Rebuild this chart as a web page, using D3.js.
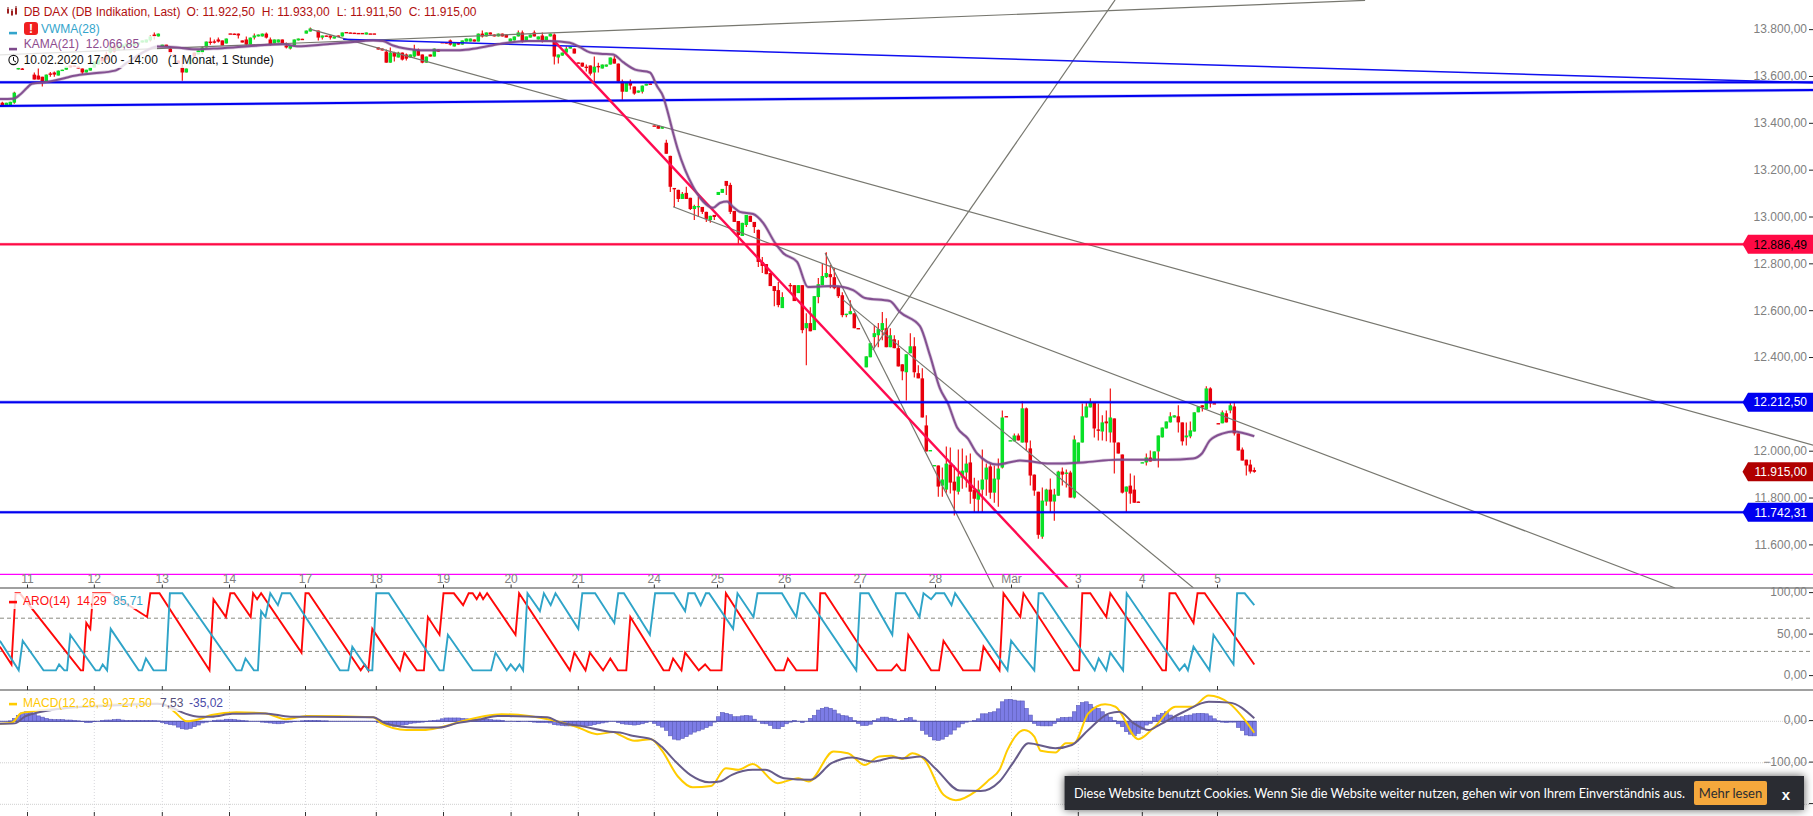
<!DOCTYPE html>
<html><head><meta charset="utf-8">
<style>html,body{margin:0;padding:0;background:#fff;overflow:hidden}svg{display:block}text{font-family:"Liberation Sans",Arial,sans-serif}</style>
<script src="https://cdn.jsdelivr.net/npm/d3@7"></script>
</head><body>
<svg id="c" width="1813" height="816"></svg>
<script>
// Candles (one entry per hourly bar, null = bar not visible)
const opens=[13491,13478,13478,13491,13635,13637,null,null,13611,13607,
13602,13581,13616,13620,13607,13628,13632,13650,13650,13645,
13637,13620,13628,13641,13654,13684,13697,13705,13735,13718,
13727,13731,13735,13735,13739,13748,13748,13757,13782,13774,
13731,13739,13722,13697,13671,13641,13620,13654,13705,13697,
13705,13727,13752,13753,13761,13757,13744,13787,13786,13786,
13757,13761,13739,13769,13774,13774,13786,13761,13744,13748,
13761,13735,13722,13735,13757,13764,13786,13795,null,13799,
13769,13778,13778,13765,13778,13774,13793,13791,13790,13789,
13789,13782,13787,13787,13727,13722,13709,13662,13705,13684,
13705,13697,13684,13688,13718,13697,13662,13697,13688,13718,
13750,13749,13757,13731,13748,13739,13752,13752,13761,13752,
13786,13774,13791,13782,13774,13786,13782,13752,13757,13774,
13791,13752,13769,13791,13761,13778,13757,13774,13782,13684,
13692,13705,13722,13722,13663,13662,13645,13650,13620,13648,
13637,13645,13654,13679,13658,13581,13538,13577,13560,13534,
13538,13564,13573,13394,13393,13380,13320,13264,13127,13119,
13080,13106,13085,13037,13046,13046,13025,12990,13012,13097,
13106,13157,13140,13029,12986,12922,12969,13008,12982,12948,
12811,12802,12764,12708,12691,12614,null,12713,12712,12678,
12712,12528,12550,12520,12661,12712,12746,12759,12746,12704,
12669,12588,12588,12592,12529,null,12361,12404,12490,12498,
12520,12528,12447,12481,12443,12374,12340,12421,12451,12336,
12314,12113,12005,11941,11942,11856,11839,11946,11873,11830,
11890,11912,11955,11839,11796,11839,11882,11938,11826,11882,
11933,12153,12048,12045,12070,12040,12186,12015,11903,11830,
11638,11788,11839,11788,11813,11916,11907,11912,11805,11955,
12040,12147,12190,12211,12096,12087,12130,12083,12143,12040,
11989,11830,11856,11839,11788,11954,11955,11976,11963,12002,
12062,12100,12126,12147,12152,12126,12062,12066,12087,12169,
12199,12182,12271,12208,12123,12122,12165,12177,12194,12079,
12010,11967,11946,11922.5];
const highs=[13495,13491,13495,13538,13641,13639,null,null,13620,13637,
13602,13611,13622,13624,13628,13632,13645,13650,13650,13645,
13637,13632,13641,13667,13675,13684,13709,13735,13739,13735,
13739,13744,13744,13744,13748,13757,13761,13778,13791,13786,
13739,13739,13727,13697,13671,13688,13637,13684,13705,13714,
13731,13752,13769,13761,13769,13757,13765,13787,13786,13786,
13757,13774,13769,13786,13782,13786,13791,13769,13761,13761,
13761,13748,13735,13761,13765,13764,13799,13812,null,13799,
13778,13778,13778,13774,13778,13791,13793,13791,13790,13789,
13789,13791,13787,13787,13727,13722,13718,13727,13709,13709,
13705,13701,13697,13739,13722,13697,13688,13697,13722,13718,
13750,13749,13761,13748,13748,13757,13765,13765,13761,13786,
13799,13791,13791,13782,13786,13786,13782,13765,13774,13799,
13799,13774,13782,13799,13774,13791,13774,13786,13786,13697,
13705,13731,13731,13722,13663,13662,13654,13650,13688,13662,
13654,13654,13684,13692,13658,13590,13577,13590,13560,13543,
13564,13572,13573,13394,13393,13388,13333,13264,13127,13119,
13110,13132,13085,13055,13089,13046,13025,13008,13012,13110,
13123,13157,13149,13029,12986,12978,13012,13008,12982,12950,
12832,12802,12764,12708,12725,12682,null,12721,12712,12712,
12712,12592,12618,12665,12742,12802,12853,12798,12785,12704,
12682,12590,12648,12592,12529,null,12408,12464,12541,12550,
12597,12571,12528,12498,12477,12374,12417,12507,12490,12370,
12357,12156,12008,11944,11942,11933,12023,12019,11942,12010,
12015,11985,11993,11890,11878,12010,11950,11950,11942,11972,
12177,12153,12050,12079,12079,12216,12190,12049,11903,11830,
11848,11843,11886,11843,11920,11933,11925,11920,12070,12040,
12207,12211,12229,12211,12207,12156,12177,12271,12143,12040,
11989,11852,11908,11899,11788,11956,11993,12006,12002,12070,
12104,12130,12169,12156,12199,12126,12126,12130,12169,12194,
12199,12280,12276,12208,12123,12177,12177,12211,12211,12079,
12019,11967,11967,11933];
const lows=[13478,13478,13478,13487,13633,13631,null,null,13590,13590,
13560,13581,13602,13602,13607,13628,13632,13641,13645,13637,
13611,13620,13628,13641,13654,13667,13675,13701,13705,13718,
13727,13731,13735,13735,13739,13748,13748,13752,13761,13774,
13731,13731,13697,13688,13658,13585,13620,13654,13688,13697,
13697,13727,13739,13744,13748,13735,13744,13785,13782,13765,
13748,13735,13739,13761,13774,13774,13765,13735,13744,13748,
13744,13722,13718,13735,13757,13762,13786,13795,null,13757,
13761,13774,13761,13765,13774,13774,13790,13789,13788,13787,
13787,13782,13785,13785,13718,13714,13662,13662,13667,13684,
13671,13671,13684,13684,13692,13660,13662,13688,13688,13709,
13748,13744,13735,13731,13739,13739,13752,13752,13752,13752,
13769,13774,13782,13774,13774,13774,13769,13752,13757,13774,
13748,13752,13769,13774,13761,13748,13757,13774,13654,13658,
13692,13705,13722,13701,13661,13645,13624,13607,13581,13620,
13637,13645,13654,13658,13577,13504,13538,13547,13525,13534,
13530,13564,13571,13392,13380,13380,13273,13110,13046,13067,
13080,13080,13033,12990,13003,13016,12982,12978,12990,13097,
13106,13097,13016,12982,12883,12922,12960,12982,12935,12789,
12764,12759,12708,12622,12618,12614,null,12682,12644,12678,
12507,12370,12515,12520,12635,12712,12742,12699,12695,12657,
12575,12575,12588,12528,12527,null,12361,12404,12443,12447,
12477,12447,12447,12443,12365,12306,12220,12421,12318,12314,
12147,12002,12005,11941,11809,11809,11826,11822,11728,11818,
11843,11848,11779,11741,11741,11741,11813,11800,11783,11766,
11929,12151,12048,12045,12049,12040,12006,11856,11813,11629,
11629,11770,11741,11706,11813,11856,11848,11805,11801,11955,
12040,12147,12190,12062,12049,12049,12045,12040,11908,11993,
11822,11741,11779,11783,11786,11954,11942,11959,11963,11933,
12062,12100,12126,12147,12083,12027,12027,12058,12087,12169,
12173,12182,12190,12206,12121,12122,12126,12165,12070,12006,
11963,11899,11908,11911.5];
const closes=[13478,13491,13495,13534,13639,13633,null,null,13590,13590,
13581,13611,13614,13611,13628,13632,13645,13641,13645,13637,
13620,13632,13641,13667,13675,13667,13675,13731,13709,13735,
13739,13744,13744,13744,13748,13757,13761,13774,13774,13786,
13739,13731,13705,13688,13658,13620,13637,13684,13688,13714,
13727,13752,13748,13750,13752,13735,13765,13785,13782,13778,
13748,13739,13769,13778,13782,13786,13769,13739,13761,13761,
13744,13727,13735,13761,13765,13762,13799,13808,null,13769,
13778,13774,13769,13774,13774,13791,13790,13789,13788,13787,
13787,13791,13785,13785,13718,13714,13662,13705,13688,13705,
13675,13679,13697,13718,13692,13662,13688,13688,13722,13709,
13748,13744,13739,13748,13739,13757,13765,13765,13752,13786,
13774,13791,13782,13774,13786,13774,13769,13765,13774,13791,
13752,13774,13782,13774,13774,13757,13774,13786,13688,13697,
13705,13722,13731,13701,13661,13645,13641,13615,13645,13646,
13654,13654,13684,13658,13581,13538,13577,13564,13530,13543,
13564,13572,13571,13392,13380,13388,13273,13132,13123,13080,
13102,13080,13037,13050,13050,13025,12995,13008,13003,13110,
13123,13136,13025,12982,12926,12978,13012,12982,12960,12811,
12794,12759,12708,12687,12627,12661,null,12711,12644,12712,
12520,12550,12515,12665,12716,12751,12764,12746,12699,12665,
12584,12590,12601,12528,12527,null,12408,12464,12507,12524,
12550,12447,12498,12443,12365,12344,12417,12451,12340,12314,
12147,12002,12008,11944,11852,11882,11950,11869,11835,11895,
11920,11950,11830,11800,11839,11882,11933,11826,11886,11929,
12147,12151,12050,12070,12049,12186,12040,11899,11835,11646,
11792,11839,11788,11818,11916,11903,11912,11805,12053,12040,
12152,12194,12211,12100,12094,12126,12122,12147,12040,11993,
11826,11852,11822,11783,11786,11956,11976,11959,12002,12070,
12104,12130,12152,12156,12126,12045,12070,12092,12169,12194,
12190,12271,12207,12206,12121,12169,12126,12199,12079,12006,
11963,11942,11916,11915];

// KAMA(21): bar index and value pairs
const kamaBars=[-0.6,2.7,4.4,6.2,7.4,10.7,15.2,16.9,21.9,28.2,31.2,36.2,38.7,43.7,47.7,52.7,57.7,63.9,70.2,73.7,81.2,86.2,92.7,95.2,97.7,101.2,104.4,114.4,118.7,124.4,131.2,136.9,141.9,144.4,146.9,149.4,152.7,155.2,158.2,161.9,163.7,165.2,166.2,167.7,168.9,170.7,172.7,175.2,177.7,179.4,181.2,182.7,184.4,187.7,190.2,193.2,195.2,198.7,201.4,207.7,212.7,215.7,221.9,224.4,229.4,231.9,234.4,236.4,238.7,241.4,243.7,248.7,254.4,261.9,270.2,278.7,291.2,297.7,299.9,301.9,305.2,307.7,313];
const kamaVals=[13507,13508,13525,13555,13572,13578,13594,13602,13615,13628,13662,13715,13731,13727,13719,13722,13727,13735,13741,13732,13741,13748,13757,13754,13735,13721,13715,13715,13724,13742,13754,13754,13747,13728,13706,13700,13697,13664,13632,13620,13561,13518,13461,13363,13290,13204,13132,13069,13042,13063,13069,13046,13025,13016,12978,12892,12849,12811,12704,12708,12691,12657,12644,12597,12537,12413,12271,12207,12104,12057,11993,11946,11963,11950,11955,11967,11967,11972,11993,12049,12079,12087,12066.85];

// Aroon up (red) and down (blue)
const aroRedBars=[-0.6,2.3,3.3,4.4,19.6,20.2,21,22,22.7,26.9,36.2,37,39.3,51.8,52.8,55.9,57,58,62.1,62.7,63.7,64.7,74.8,75.8,76.6,89.6,90.6,91.5,92.5,99.4,100.5,103.6,105.4,106.4,109.3,110.3,112.9,115.2,116.6,117.6,118.6,119.4,120.2,121.2,128.3,129.2,141.9,143,145.8,146.9,150.2,152,153.9,156,157,165.3,166.7,167.7,169.8,170.7,174.1,175.7,177,179.8,180.9,193.3,195.4,196.4,198.5,203.7,204.5,205.7,213.5,218.7,222.3,223.6,224.7,225.7,226.5,232.2,234.2,235.3,240.2,244.4,245.3,249.3,250.3,254.5,255.3,267.9,269.2,270,272,276,277,290,290.9,291.8,293.3,297.8,298.8,300.6,313];
const aroRedVals=[35.71,14.29,100,100,7.14,7.14,64.29,57.14,100,100,71.43,100,100,7.14,92.86,71.43,100,100,71.43,100,92.86,100,28.57,100,100,7.14,14.29,7.14,57.14,7.14,28.57,7.14,7.14,71.43,50,100,100,85.71,100,100,92.86,100,92.86,100,50,100,7.14,28.57,7.14,28.57,7.14,21.43,7.14,7.14,71.43,7.14,7.14,21.43,7.14,28.57,7.14,14.29,7.14,7.14,100,7.14,7.14,21.43,7.14,7.14,100,100,42.86,7.14,7.14,14.29,7.14,7.14,50,7.14,7.14,42.86,7.14,7.14,35.71,7.14,100,71.43,100,7.14,7.14,100,100,71.43,100,7.14,7.14,100,100,64.29,100,100,14.29];
const aroBlueBars=[-0.6,4.1,5.1,10.3,13.4,14.2,15.5,16.2,17,23.3,24.3,25.1,26.2,27.1,34.1,34.9,35.9,37.8,40.9,41.9,45,58.5,59.8,60.8,62.9,63.9,64.7,65.8,67,68.9,69.9,72,84.4,86.5,87.5,91.5,92.5,93.5,96.6,109.3,110.3,111.4,117.6,122.2,123.3,126.1,127.1,128.3,129.3,130.2,131.3,134.4,135.4,137.1,138.3,144,145,148.2,153,154,155.4,161.9,163.2,167.9,170.7,171.5,173.1,174.6,175.9,176.7,182.7,183.8,187.8,188.8,194.9,198.5,199.5,200.5,213.5,214.5,216.6,222.5,223.4,225.7,229.3,230.3,232.2,233.4,235.5,237.3,238.2,251.3,252.2,258,259.1,260.1,273.1,274.1,276,277,280.2,281.1,294.3,295.6,296.4,297.8,301.8,302.8,307.8,308.7,310.6,313];
const aroBlueVals=[42.86,7.14,42.86,7.14,7.14,14.29,7.14,7.14,50,7.14,7.14,14.29,7.14,57.14,7.14,7.14,21.43,7.14,7.14,100,100,7.14,7.14,21.43,7.14,7.14,78.57,71.43,100,85.71,100,100,7.14,7.14,35.71,7.14,7.14,100,100,7.14,7.14,50,7.14,7.14,28.57,7.14,14.29,7.14,14.29,7.14,100,78.57,100,85.71,100,57.14,100,100,64.29,100,100,50,100,100,78.57,100,100,85.71,100,100,57.14,100,71.43,100,100,71.43,100,100,7.14,100,100,50,100,100,71.43,100,92.86,100,100,85.71,100,7.14,42.86,7.14,100,100,7.14,21.43,7.14,28.57,7.14,100,7.14,14.29,7.14,35.71,7.14,50,14.29,100,100,85.71];

// MACD(12,26,9)
const macdBars=[-0.6,2.5,4.6,6.7,15,25.3,33.6,39.9,43,46.1,49.2,52.3,58.5,65.8,70.9,76.1,92.7,94.8,101,105.2,109.3,114.5,120.7,124.8,137.3,143.5,148.7,152.8,154.4,158,162.2,164.8,168.9,172.6,177.2,180.9,184,187.6,193.8,199,201.6,207.8,211.4,215.6,219.2,222.3,224.9,227.5,230.6,235.3,238.4,243.6,246.7,249.3,251.3,255.5,258,259.6,263.3,265.9,267.9,271.5,275.7,278.3,284,288.1,293.3,297.5,301.6,306.8,313];
const macdVals=[-6,-3,19,23,31,39,42,42,23,0,5,15,22,19,5,13,10,-5,-21,-21,-15,-1,13,17,3,-13,-31,-26,-33,-47,-43,-69,-133,-159,-156,-113,-117,-103,-149,-137,-145,-73,-77,-105,-85,-83,-91,-77,-93,-177,-190,-167,-141,-117,-69,-21,-37,-71,-75,-53,-53,19,41,35,-43,-13,35,35,62,43,-27.5];
const signalBars=[-0.6,3.1,5.6,9.8,15,20.2,25.3,30.5,38.8,41.9,45.6,49.2,52.3,57.5,65.8,72,78.2,92.7,95.8,103.1,109.3,113.4,119.7,123.8,136.2,139.4,144.5,152.8,154.4,157.5,162.2,164.8,167.9,172,176.7,179.3,182.4,187.6,190.7,195.4,202.1,207.3,212.5,217.6,222.8,224.9,229.6,233.2,239.4,244.6,249.3,252.9,256.5,263.3,267.4,271.5,276.7,279.3,282.9,286.6,289.2,295.4,301.6,306.8,313];
const signalVals=[-6,-5,11,23,31,35,37,39,42,35,19,11,11,18,19,11,11,10,-5,-15,-15,-5,5,13,10,-3,-11,-26,-27,-35,-43,-61,-93,-129,-147,-145,-129,-117,-117,-137,-141,-101,-87,-97,-87,-89,-85,-113,-167,-168,-145,-97,-53,-65,-57,-21,19,23,-5,-21,-9,23,47,45,7.53];
const histVals=[0,0,1,7,14,20,23,23,18,13,10,7,5,4,4,4,3,3,2,1,-1,-3,-3,-1,0,2,3,3,4,5,3,2,2,2,2,2,2,2,2,1,-3,-6,-8,-9,-14,-18,-19,-17,-13,-9,-4,-2,0,2,3,3,5,5,4,3,2,1,0,0,0,-2,-3,-4,-5,-6,-5,-3,-2,-1,0,1,2,2,2,2,1,1,0,0,0,0,0,0,0,0,0,0,0,0,-3,-5,-8,-10,-12,-11,-9,-8,-5,-4,-3,-2,-1,1,2,3,6,8,8,8,8,7,6,5,5,5,5,5,4,3,3,2,0,0,0,-1,0,0,-1,-2,-3,-3,-3,-4,-8,-9,-10,-11,-11,-11,-10,-11,-11,-10,-8,-6,-4,-2,0,0,-3,-6,-7,-8,-9,-8,-6,-3,0,-5,-10,-14,-22,-35,-43,-45,-41,-37,-31,-26,-23,-19,-15,-11,-2,11,21,19,16,11,11,13,14,13,5,0,-5,-6,-10,-17,-18,-13,-6,-2,2,0,-3,0,7,14,27,31,34,31,27,18,14,13,9,2,-5,-10,-10,-7,2,6,10,10,7,5,-1,2,7,9,3,0,-22,-31,-37,-45,-46,-43,-37,-31,-21,-14,-6,-2,0,2,6,18,18,21,23,30,47,52,53,51,49,49,31,15,-5,-10,-11,-11,-11,-5,6,9,9,10,23,38,45,47,41,34,31,23,15,10,2,-6,-13,-25,-31,-35,-29,-19,-9,-5,10,15,19,23,15,11,10,11,14,15,18,19,19,18,13,6,1,-2,-3,-2,-2,-15,-22,-33,-35,-35.02];

// Axis ticks
const dayBars=[6.3,23,40,56.8,75.8,93.5,110.3,127.2,144,163,178.8,195.6,214.5,233.3,252.3,269,285,303.8];
const dayLabels=["11","12","13","14","17","18","19","20","21","24","25","26","27","28","Mär","3","4","5"];
const priceTicks=[13800,13600,13400,13200,13000,12800,12400,12600,12000,11800,11600];
const aroTicks=[100,50,0];
const aroGuides=[70,30];
const macdTicks=[0,-100,-200];
const macdLabelled=[0,-100];

// Horizontal levels and tags
const levelValues=[12886.49,12212.50,11742.31];
const levelColors=["#ff0a45","#0000f0","#0000f0"];
const levelInk=["#000","#fff","#fff"];
const lastPrice=11915;

// Trendlines: bar index and price at each end
const grayBarsA=[-0.6,76.9,167.7,217.6,205.7,210.2];
const grayBarsB=[340.7,452.7,418.2,278.2,247.9,297.8];
const grayValsA=[13695,13805,13047,12435,12849,12649];
const grayValsB=[13928,12029,11419,13930,11419,11419];
const redTrendBars=[137.7,266.4];
const redTrendVals=[13759,11419];
const blueThinBars=[85.2,452.7];
const blueThinVals=[13762,13576];
const blueThickBars=[-0.6,452.7];
const blueThickVals=[13477,13545];
const blueFlatBars=[-0.6,452.7];
const blueFlatVals=[13578,13578];

const svg=d3.select("#c");
const W=1813,mainB=588,aroB=690,macdB=816;
const x=d3.scaleLinear().domain([0,313]).range([2.3,1254.3]);
const y=d3.scaleLinear().domain([12000,13000]).range([451.9,217.7]);
const yAro=d3.scaleLinear().domain([0,100]).range([676.3,593.3]);
const yMacd=d3.scaleLinear().domain([0,-100]).range([721.3,762.8]);
const loc=d3.formatLocale({decimal:",",thousands:".",grouping:[3],currency:["",""]});
const fmt=loc.format(",.2f");

const defs=svg.append("defs");
defs.append("clipPath").attr("id","main").append("rect").attr("width",W).attr("height",mainB);
const blur=defs.append("filter").attr("id","sh").attr("x","-5%").attr("y","-40%").attr("width","110%").attr("height","180%");
blur.append("feGaussianBlur").attr("stdDeviation",4);

// vertical grid in the MACD pane
svg.append("g").selectAll("line").data(dayBars).join("line")
 .attr("x1",d=>x(d)).attr("x2",d=>x(d)).attr("y1",aroB).attr("y2",macdB)
 .attr("stroke","#d8d8dc").attr("stroke-dasharray","1 2");
svg.append("g").selectAll("line").data(macdTicks).join("line")
 .attr("x1",0).attr("x2",W-4).attr("y1",d=>yMacd(d)).attr("y2",d=>yMacd(d))
 .attr("stroke","#cfcfcf").attr("stroke-dasharray","1 1");

// Candles
const main=svg.append("g").attr("clip-path","url(#main)");
const idx=d3.range(opens.length).filter(i=>opens[i]!==null);
main.append("g").selectAll("line").data(idx).join("line")
 .attr("x1",i=>x(i)).attr("x2",i=>x(i)).attr("y1",i=>y(highs[i])).attr("y2",i=>y(lows[i]))
 .attr("stroke","#f00000").attr("stroke-width",1.1);
main.append("g").selectAll("rect").data(idx).join("rect")
 .attr("x",i=>x(i)-1.75).attr("width",3.5)
 .attr("y",i=>Math.min(y(opens[i]),y(closes[i])))
 .attr("height",i=>Math.max(1.4,Math.abs(y(opens[i])-y(closes[i]))))
 .attr("fill",i=>closes[i]>=opens[i]?"#08e028":"#e8000c");

const seg=(bx,vals,sc)=>d3.line().x((d,k)=>x(bx[k])).y((d,k)=>sc(vals[k]))(vals);
// Gray trend lines
main.append("g").selectAll("line").data(d3.range(grayBarsA.length)).join("line")
 .attr("x1",k=>x(grayBarsA[k])).attr("x2",k=>x(grayBarsB[k]))
 .attr("y1",k=>y(grayValsA[k])).attr("y2",k=>y(grayValsB[k]))
 .attr("stroke","#77776f").attr("stroke-width",1.2);
// Blue levels
main.append("path").attr("d",seg(blueThinBars,blueThinVals,y)).attr("fill","none").attr("stroke","#1010f0").attr("stroke-width",1.5);
[[blueFlatBars,blueFlatVals],[blueThickBars,blueThickVals]].forEach(([b,v])=>{
  main.append("path").attr("d",seg(b,v,y)).attr("fill","none").attr("stroke","#0000f0").attr("stroke-width",3.2).attr("stroke-opacity",.3);
  main.append("path").attr("d",seg(b,v,y)).attr("fill","none").attr("stroke","#0000f0").attr("stroke-width",2);
});
// Magenta separator
svg.append("line").attr("x1",0).attr("x2",W).attr("y1",574.3).attr("y2",574.3).attr("stroke","#ff00ff").attr("stroke-width",1.2);
// Red trend
main.append("path").attr("d",seg(redTrendBars,redTrendVals,y)).attr("fill","none").attr("stroke","#ff0a50").attr("stroke-width",2.4);
// Horizontal levels
levelValues.forEach((v,k)=>{
  svg.append("line").attr("x1",0).attr("x2",1745).attr("y1",y(v)).attr("y2",y(v)).attr("stroke",levelColors[k]).attr("stroke-width",3.2).attr("stroke-opacity",.3);
  svg.append("line").attr("x1",0).attr("x2",1745).attr("y1",y(v)).attr("y2",y(v)).attr("stroke",levelColors[k]).attr("stroke-width",2);
});
// KAMA
const kamaPath=d3.line().curve(d3.curveMonotoneX).x((d,k)=>x(kamaBars[k])).y((d,k)=>y(kamaVals[k]))(kamaVals);
main.append("path").attr("d",kamaPath).attr("fill","none").attr("stroke","#7e4a8c").attr("stroke-width",3.4).attr("stroke-opacity",.3);
main.append("path").attr("d",kamaPath).attr("fill","none").attr("stroke","#7e4a8c").attr("stroke-width",2).attr("stroke-opacity",.95);

// Pane borders
[mainB,aroB].forEach(b=>svg.append("line").attr("x1",0).attr("x2",W).attr("y1",b).attr("y2",b).attr("stroke","#808080").attr("stroke-width",1.4));

// Day ticks and labels
[[584.5,588],[686,690],[812,816]].forEach(([a,b])=>{
 svg.append("g").selectAll("line").data(dayBars).join("line")
  .attr("x1",d=>x(d)).attr("x2",d=>x(d)).attr("y1",a).attr("y2",b).attr("stroke","#333");
});
svg.append("g").selectAll("text").data(dayBars).join("text")
 .attr("x",d=>x(d)).attr("y",582.5).attr("text-anchor","middle").attr("font-size",12).attr("fill","#808080")
 .text((d,k)=>dayLabels[k]);

// Aroon
svg.append("g").selectAll("line").data(aroGuides).join("line")
 .attr("x1",0).attr("x2",W).attr("y1",d=>yAro(d)).attr("y2",d=>yAro(d))
 .attr("stroke","#8a8a82").attr("stroke-dasharray","4 3");
svg.append("path").attr("d",seg(aroRedBars,aroRedVals,yAro)).attr("fill","none").attr("stroke","#ff0808").attr("stroke-width",1.9);
svg.append("path").attr("d",seg(aroBlueBars,aroBlueVals,yAro)).attr("fill","none").attr("stroke","#2fa4c8").attr("stroke-width",1.9);

// MACD histogram
svg.append("g").selectAll("rect").data(histVals).join("rect")
 .attr("x",(d,i)=>x(i)-2).attr("width",4)
 .attr("y",d=>Math.min(yMacd(d),yMacd(0))).attr("height",d=>Math.abs(yMacd(d)-yMacd(0)))
 .attr("fill","#7c7ce6").attr("stroke","#5a5ab8").attr("stroke-width",.6);
svg.append("line").attr("x1",0).attr("x2",x(313)+2).attr("y1",yMacd(0)).attr("y2",yMacd(0)).attr("stroke","#5050a8").attr("stroke-width",1);
const smooth=(b,v)=>d3.line().curve(d3.curveMonotoneX).x((d,k)=>x(b[k])).y((d,k)=>yMacd(v[k]))(v);
svg.append("path").attr("d",smooth(macdBars,macdVals)).attr("fill","none").attr("stroke","#ffcc00").attr("stroke-width",2);
svg.append("path").attr("d",smooth(signalBars,signalVals)).attr("fill","none").attr("stroke","#675c8a").attr("stroke-width",2);

// Right axes
function axis(scale,vals,fn){
 const a=d3.axisLeft(scale).tickValues(vals).tickSize(4).tickPadding(2).tickFormat(fn);
 const g=svg.append("g").attr("transform",`translate(${W},-1.2)`).call(a);
 g.select(".domain").remove();
 g.selectAll("line").attr("stroke","#222");
 g.selectAll("text").attr("fill","#808080").attr("font-size",12).attr("font-family",'"Liberation Sans",Arial,sans-serif');
}
axis(y,priceTicks,fmt);
axis(yAro,aroTicks,fmt);
axis(yMacd,macdTicks,d=>macdLabelled.includes(d)?fmt(d):"");

// Price tags
function tag(v,col,ink){
 const c=y(v);
 svg.append("path").attr("d",`M1742.5,${c}L1748,${c-9.5}L1813,${c-9.5}L1813,${c+9.5}L1748,${c+9.5}Z`).attr("fill",col);
 svg.append("text").attr("x",1807).attr("y",c+4.3).attr("text-anchor","end").attr("font-size",12).attr("fill",ink).text(fmt(v));
}
levelValues.forEach((v,k)=>tag(v,levelColors[k],levelInk[k]));
tag(lastPrice,"#b00000","#fff");

// Legends
const veil=[[0,20,98,16],[0,36,157,16],[0,52,278,16],[0,593,145,16],[0,695,225,16]];
svg.append("g").selectAll("rect").data(veil).join("rect")
 .attr("x",d=>d[0]).attr("y",d=>d[1]).attr("width",d=>d[2]).attr("height",d=>d[3]).attr("fill","#fff").attr("fill-opacity",.8);
const txt=(xp,yp,s,col)=>svg.append("text").attr("x",xp).attr("y",yp).attr("font-size",12).attr("fill",col).attr("xml:space","preserve").text(s);
const dash=(yp,col)=>svg.append("rect").attr("x",9).attr("y",yp-1.2).attr("width",8).attr("height",2.6).attr("fill",col);
// chart icon
[[8,7,13],[12,9,15],[16,6,14]].forEach(([a,b,c])=>{
 svg.append("line").attr("x1",a).attr("x2",a).attr("y1",b).attr("y2",c+1).attr("stroke","#7a1010").attr("stroke-width",1);
 svg.append("rect").attr("x",a-1).attr("y",b+2).attr("width",2).attr("height",c-b-2).attr("fill","#a02020");
});
txt(23.7,16,"DB DAX (DB Indikation, Last)","#b01010");
txt(186.4,16,"O: 11.922,50","#b01010");
txt(261.8,16,"H: 11.933,00","#b01010");
txt(336.8,16,"L: 11.911,50","#b01010");
txt(408.7,16,"C: 11.915,00","#b01010");
dash(33,"#33a5cc");
svg.append("rect").attr("x",24).attr("y",22).attr("width",14).attr("height",13).attr("rx",3).attr("fill","#f02020");
svg.append("text").attr("x",31).attr("y",33).attr("text-anchor","middle").attr("font-size",12).attr("font-weight","bold").attr("fill","#fff").text("!");
txt(41,33,"VWMA(28)","#33a5cc");
dash(49,"#7e4a8c");
txt(23.7,48,"KAMA(21)  12.066,85","#8e4b8e");
svg.append("circle").attr("cx",13.5).attr("cy",60).attr("r",4.6).attr("fill","none").attr("stroke","#111").attr("stroke-width",1.1);
svg.append("path").attr("d","M13.5,57V60.5L16,62").attr("fill","none").attr("stroke","#111");
txt(23.7,64,"10.02.2020 17:00 - 14:00   (1 Monat, 1 Stunde)","#111");
dash(602,"#ff0808");
txt(23,605,"ARO(14)","#ff1010");txt(76.7,605,"14,29","#ff1010");txt(113,605,"85,71","#2fa4c8");
dash(704,"#ffcc00");
txt(23,707,"MACD(12, 26, 9)","#ffc800");txt(118,707,"-27,50","#ffc800");txt(160,707,"7,53","#55507a");txt(189,707,"-35,02","#4a4aa8");

// Cookie bar
svg.append("rect").attr("x",1064.6).attr("y",776).attr("width",739.4).attr("height",34).attr("fill","#000").attr("fill-opacity",.65).attr("filter","url(#sh)");
svg.append("rect").attr("x",1064.6).attr("y",776).attr("width",739.4).attr("height",34).attr("fill","#2a2c32");
svg.append("text").attr("x",1074).attr("y",798).attr("font-size",13).attr("fill","#fff").attr("style",'font-family:Lato,"Open Sans",sans-serif')
 .attr("textLength",611).attr("lengthAdjust","spacingAndGlyphs")
 .text("Diese Website benutzt Cookies. Wenn Sie die Website weiter nutzen, gehen wir von Ihrem Einverständnis aus.");
svg.append("rect").attr("x",1694).attr("y",781).attr("width",73).attr("height",24).attr("rx",2).attr("fill","#f5a83c");
svg.append("text").attr("x",1730.5).attr("y",797.5).attr("text-anchor","middle").attr("font-size",13).attr("fill","#2a2c32").attr("style",'font-family:Lato,"Open Sans",sans-serif').text("Mehr lesen");
svg.append("text").attr("x",1786).attr("y",800).attr("text-anchor","middle").attr("font-size",15).attr("font-weight","bold").attr("fill","#fff").text("x");
</script>
</body></html>
